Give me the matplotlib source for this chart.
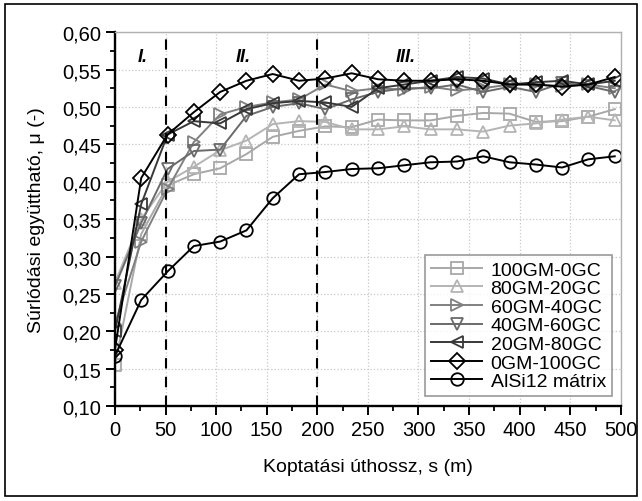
import numpy as np
import matplotlib.pyplot as plt
from matplotlib.patches import Rectangle
from matplotlib.ticker import MultipleLocator, FuncFormatter

plt.rcParams['font.family'] = ['Liberation Sans', 'DejaVu Sans']

# kopási úthossz (m)
s = np.arange(20) * 26

gm100_gc0 = [0.155, 0.33, 0.395, 0.41, 0.418, 0.437, 0.46, 0.468, 0.474, 0.473,
             0.483, 0.482, 0.482, 0.488, 0.492, 0.491, 0.48, 0.481, 0.487, 0.497]
gm80_gc20 = [0.265, 0.35, 0.40, 0.42, 0.442, 0.455, 0.477, 0.481, 0.48, 0.47,
             0.47, 0.474, 0.47, 0.47, 0.467, 0.475, 0.478, 0.483, 0.487, 0.482]
gm60_gc40 = [0.21, 0.32, 0.39, 0.453, 0.49, 0.50, 0.506, 0.51, 0.53, 0.521,
             0.525, 0.523, 0.527, 0.522, 0.525, 0.53, 0.53, 0.528, 0.53, 0.525]
gm40_gc60 = [0.26, 0.345, 0.417, 0.441, 0.443, 0.488, 0.50, 0.505, 0.497, 0.51,
             0.52, 0.525, 0.525, 0.53, 0.52, 0.527, 0.52, 0.532, 0.528, 0.52]
gm20_gc80 = [0.20, 0.37, 0.463, 0.481, 0.478, 0.497, 0.505, 0.508, 0.506, 0.50,
             0.525, 0.53, 0.535, 0.54, 0.538, 0.53, 0.533, 0.535, 0.53, 0.535]
gm0_gc100 = [0.175, 0.405, 0.463, 0.493, 0.52, 0.535, 0.544, 0.535, 0.538, 0.545,
             0.537, 0.535, 0.535, 0.537, 0.535, 0.53, 0.53, 0.527, 0.53, 0.54]
alsi12 = [0.167, 0.242, 0.28, 0.314, 0.32, 0.335, 0.378, 0.41, 0.413, 0.417,
          0.418, 0.422, 0.426, 0.427, 0.434, 0.426, 0.423, 0.419, 0.43, 0.434]

series = [
    ("100GM-0GC", gm100_gc0, "s", "#a8a8a8"),
    ("80GM-20GC", gm80_gc20, "^", "#b4b4b4"),
    ("60GM-40GC", gm60_gc40, ">", "#808080"),
    ("40GM-60GC", gm40_gc60, "v", "#6a6a6a"),
    ("20GM-80GC", gm20_gc80, "<", "#383838"),
    ("0GM-100GC", gm0_gc100, "D", "#000000"),
    ("AlSi12 mátrix", alsi12, "o", "#000000"),
]

fig = plt.figure(figsize=(6.42, 5.02), dpi=100)
ax = fig.add_axes([0.179, 0.189, 0.788, 0.745])

for label, vals, mk, col in series:
    ms = 9 if mk != "D" else 8
    ax.plot(s, vals, marker=mk, color=col, markerfacecolor="none",
            markeredgecolor=col, markersize=ms, linewidth=1.4,
            markeredgewidth=1.3, label=label)

ax.axvline(50, color="black", linestyle=(0, (5, 4)), linewidth=1.5)
ax.axvline(200, color="black", linestyle=(0, (5, 4)), linewidth=1.5)
ax.text(27, 0.568, "I.", fontsize=13, fontweight="bold", style="italic", ha="center", va="center")
ax.text(127, 0.568, "II.", fontsize=13, fontweight="bold", style="italic", ha="center", va="center")
ax.text(287, 0.568, "III.", fontsize=13, fontweight="bold", style="italic", ha="center", va="center")

ax.set_xlim(0, 500)
ax.set_ylim(0.10, 0.60)
ax.xaxis.set_major_locator(MultipleLocator(50))
ax.xaxis.set_minor_locator(MultipleLocator(25))
ax.yaxis.set_major_locator(MultipleLocator(0.05))
ax.yaxis.set_minor_locator(MultipleLocator(0.025))
ax.yaxis.set_major_formatter(FuncFormatter(lambda v, p: f"{v:.2f}".replace(".", ",")))
ax.tick_params(which="major", direction="out", length=6.5, width=1.4, labelsize=14.5)
ax.tick_params(which="minor", direction="out", length=3.5, width=1.3)
ax.grid(True, which="major", linestyle=":", color="#c8c8c8", linewidth=0.9)

for side in ["left", "bottom"]:
    ax.spines[side].set_linewidth(1.7)
for side in ["top", "right"]:
    ax.spines[side].set_color("#b0b0b0")
    ax.spines[side].set_linewidth(1.0)

ax.set_xlabel("Koptatási úthossz, s (m)", fontsize=14, labelpad=14)
ax.set_ylabel("Súrlódási együttható, μ (-)", fontsize=14, labelpad=12)

leg = ax.legend(loc="lower right", fontsize=14, frameon=True, fancybox=False,
                edgecolor="#808080", handlelength=2.6, borderpad=0.3,
                labelspacing=0.05, handletextpad=0.45, borderaxespad=0,
                bbox_to_anchor=(0.982, 0.027))
leg.get_frame().set_linewidth(1.2)

fig.patches.append(Rectangle((0.008, 0.01), 0.984, 0.98, transform=fig.transFigure,
                             fill=False, edgecolor="black", linewidth=1.2))

fig.savefig("out.png", dpi=100)
